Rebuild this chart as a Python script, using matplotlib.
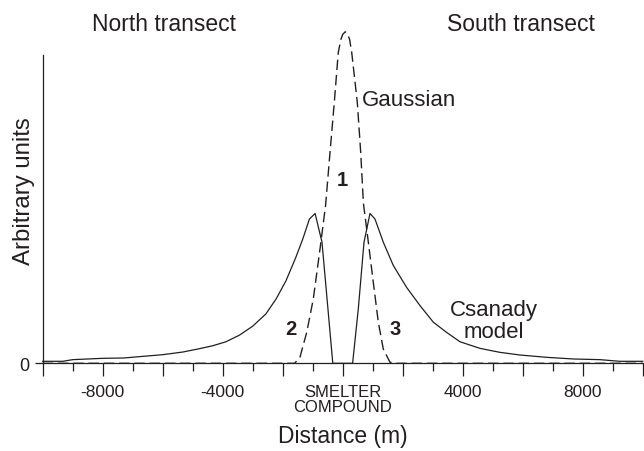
import numpy as np
import matplotlib.pyplot as plt

plt.rcParams['font.family'] = ['Liberation Sans', 'DejaVu Sans']

# distance along the transect (m), negative = north of the smelter
csanady_x = [-10000, -9333, -9000, -8000, -7300, -6780, -6000, -5330, -4780,
             -4330, -3890, -3440, -3000, -2560, -2220, -1890, -1560, -1330,
             -1110, -920, -690, -330, 330, 520, 710, 910, 1077, 1354, 1687,
             2130, 2577, 3020, 3467, 3910, 4577, 5243, 5910, 6800, 7690, 8577,
             9240, 10000]
csanady_y = [0.6, 0.6, 1.1, 1.5, 1.6, 2.0, 2.6, 3.4, 4.4,
             5.3, 6.5, 8.5, 11.2, 14.9, 19.4, 24.9, 32.0, 37.5,
             43.5, 45.2, 36.5, 0.0, 0.0, 16.4, 36.5, 45.2, 43.5, 36.5, 29.5,
             22.9, 17.4, 12.4, 9.3, 6.5, 4.5, 3.3, 2.5, 1.8, 1.3, 1.1,
             0.6, 0.6]

gauss_x = [-10000, -1600, -1423, -1200, -980, -757, -570, -423, -280, -147,
           -60, 0, 85, 170, 230, 300, 487, 600, 690, 855, 1020, 1187, 1353,
           1577, 1800, 10000]
gauss_y = [0.0, 0.0, 1.9, 9.3, 19.4, 34.4, 47.7, 63.6, 78.7, 93.8,
           97.7, 99.2, 100.0, 99.2, 97.7, 93.8, 78.7, 63.6, 48.3, 36.5, 24.4,
           12.4, 4.3, 0.3, 0.0, 0.0]

tick_pos = np.arange(-10000, 10001, 2000)
tick_labels = ['', '-8000', '', '-4000', '', 'SMELTER\nCOMPOUND', '',
               '4000', '', '8000', '']

ink = '#231f20'
W, H = 644, 452

fig = plt.figure(figsize=(6.44, 4.52), dpi=100)
ax = fig.add_axes([42.7 / W, 1 - 370 / H, 600 / W, 340 / H])

ax.plot(csanady_x, csanady_y, color=ink, lw=0.9, clip_on=False, zorder=3)
ax.plot(gauss_x, gauss_y, color=ink, lw=1.0, dashes=(7.5, 3.5),
        clip_on=False, zorder=3)

ax.set_xlim(-10000, 10000)
ax.set_ylim(-1.72, 100.83)

for s in ['top', 'right']:
    ax.spines[s].set_visible(False)
ax.spines['bottom'].set_position(('data', 0))
ax.spines['left'].set_bounds(0, 93)
for s in ['bottom', 'left']:
    ax.spines[s].set_linewidth(0.9)
    ax.spines[s].set_color(ink)

ax.set_xticks(tick_pos)
ax.set_xticklabels(tick_labels)
ax.set_xticks(np.arange(-9000, 10000, 2000), minor=True)
ax.set_yticks([0])
ax.set_yticklabels(['0'])
ax.tick_params(axis='x', which='major', direction='out', length=9, width=0.9,
               pad=6, labelsize=12.5, colors=ink)
ax.tick_params(axis='x', which='minor', direction='out', length=6, width=0.9,
               colors=ink)
ax.tick_params(axis='y', direction='out', length=6, width=0.9, pad=3.5,
               labelsize=13, colors=ink)
# the centre tick carries the two-line site label
smelter = ax.get_xticklabels()[5]
smelter.set_fontsize(12)
smelter.set_linespacing(0.95)

# curve annotations
ax.text(633, 77.9, 'Gaussian', fontsize=16, color=ink, ha='left', va='baseline')
ax.text(5043, 14.6, 'Csanady', fontsize=16, color=ink, ha='center', va='baseline')
ax.text(5043, 7.9, 'model', fontsize=16, color=ink, ha='center', va='baseline')
ax.text(0, 53.9, '1', fontsize=14.5, fontweight='bold', color=ink,
        ha='center', va='baseline')
ax.text(-1730, 8.8, '2', fontsize=14.5, fontweight='bold', color=ink,
        ha='center', va='baseline')
ax.text(1760, 8.8, '3', fontsize=14.5, fontweight='bold', color=ink,
        ha='center', va='baseline')

fig.text(163.5 / W, 1 - 30.7 / H, 'North transect', fontsize=16.5, color=ink,
         ha='center', va='baseline')
fig.text(521 / W, 1 - 30.7 / H, 'South transect', fontsize=16.5, color=ink,
         ha='center', va='baseline')
fig.text(343 / W, 1 - 443.3 / H, 'Distance (m)', fontsize=16.5, color=ink,
         ha='center', va='baseline')
fig.text(24.5 / W, 1 - 191 / H, 'Arbitrary units', fontsize=17.3, color=ink,
         rotation=90, ha='center', va='center')

fig.savefig('out.png', dpi=100)
